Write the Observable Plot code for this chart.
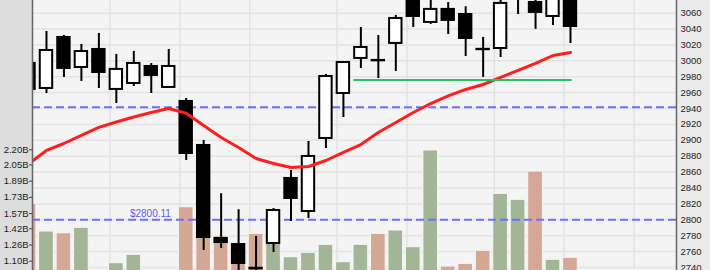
<!DOCTYPE html>
<html><head><meta charset="utf-8">
<script src="https://cdn.jsdelivr.net/npm/d3@7"></script>
<script src="https://cdn.jsdelivr.net/npm/@observablehq/plot@0.6"></script>
<style>
html,body{margin:0;padding:0;background:#fff;}
#chart svg{display:block;}
</style></head><body><div id="chart"></div>
<script>
// ---- data ----
const dayIndex = d3.range(32);
const openPrice  = [2996.7,2965.2,3029.4,2991.6,3014.3,2964.0,2971.5,2992.9,2966.5,2948.9,2893.5,2776.5,2768.9,2739.0,2770.2,2852.0,2810.4,2902.3,2958.9,3003.0,3000.5,3021.9,3080.0,3048.3,3064.7,3058.3,3014.5,3015.5,3082.0,3073.4,3055.8,3082.0];
const highPrice  = [3002.0,3036.9,3031.9,3020.6,3034.4,3008.1,3011.8,2996.7,3014.3,2952.6,2899.8,2832.8,2812.7,2779.0,2814.2,2862.0,2898.5,2982.8,2999.2,3042.0,3031.9,3057.1,3085.0,3080.0,3073.4,3068.0,3029.4,3078.0,3100.0,3085.0,3086.0,3090.0];
const lowPrice   = [2958.0,2958.9,2979.1,2974.1,2965.2,2946.3,2967.7,2958.9,2966.5,2874.6,2761.4,2763.9,2728.0,2725.0,2758.9,2797.9,2801.6,2889.7,2928.7,2990.4,2977.8,2986.6,3041.9,3045.8,3033.2,3005.5,2979.1,3004.2,3058.3,3039.5,3044.5,3021.8];
const closePrice = [2964.0,3013.0,2990.4,3011.7,2985.3,2989.2,2996.7,2981.6,2992.9,2883.4,2777.7,2771.4,2745.0,2738.2,2811.7,2826.8,2879.7,2980.3,2997.9,3016.8,3000.0,3053.3,3055.8,3064.7,3050.8,3028.1,3014.0,3072.2,3095.0,3060.9,3080.0,3043.2];
const volumeB    = [1.667,1.393,1.376,1.430,0.98,1.080,1.163,0.95,0.97,1.633,1.60,1.344,1.272,1.370,1.324,1.139,1.183,1.262,1.090,1.262,1.370,1.403,1.238,2.193,1.048,1.074,1.203,1.765,1.706,1.985,1.114,1.134];
const movingAvg  = [2870.8,2887.2,2896.0,2906.1,2916.2,2923.1,2929.4,2935.0,2940.0,2934.1,2918.7,2903.6,2891.0,2877.1,2870.8,2865.8,2867.1,2874.6,2884.7,2894.7,2909.8,2922.4,2935.0,2946.3,2955.8,2964.0,2970.2,2979.1,2987.9,2996.7,3006.7,3010.5];

const priceTicks = [2740,2760,2780,2800,2820,2840,2860,2880,2900,2920,2940,2960,2980,3000,3020,3040,3060];
const volumeTicks = [1.10,1.26,1.42,1.57,1.73,1.89,2.05,2.20];
const volumeTickLabels = ["1.10B","1.26B","1.42B","1.57B","1.73B","1.89B","2.05B","2.20B"];
const weekStarts = [5,9,13,18,22,27,31,35];
const refPrices = [2941.5, 2800.11];
const refLabels = ["", "$2800.11"];
const refLabelDay = [0, 6.95];
const supportPrice = 2975.9, supportFrom = 18.6, supportTo = 31.1;

// ---- scales / helpers ----
const xDomain = [0.2, 37.07];
const yDomain = [2736.2, 3075.9];
// secondary (volume) axis mapped onto price units
const volToPrice = v => 2747.9 + (v - 1.10) * 127.47;

const candles = dayIndex.map(i => ({
  i, open: openPrice[i], high: highPrice[i], low: lowPrice[i], close: closePrice[i],
  vol: volumeB[i], ma: movingAvg[i],
  up: i > 0 && closePrice[i] >= closePrice[i - 1]
}));
const refs = refPrices.map((p, k) => ({price: p, label: refLabels[k], at: refLabelDay[k]}));

const FONT = "Liberation Sans, Arial, sans-serif";

const chart = Plot.plot({
  width: 710, height: 270,
  marginLeft: 32, marginRight: 34, marginTop: 0, marginBottom: 0,
  style: {
    fontFamily: FONT, fontSize: "9.5px", color: "#222",
    background: "linear-gradient(to right, #dddddd 0 32px, #f4f4f4 32px 676px, #ebebeb 676px)"
  },
  x: {domain: xDomain, axis: null},
  y: {domain: yDomain, axis: null},
  marks: [
    Plot.frame({fill: "#f4f4f4"}),
    Plot.ruleY(priceTicks, {stroke: "#e3e3e3", strokeWidth: 1.5}),
    Plot.ruleX(weekStarts, {x: d => d - 0.36, stroke: "#e3e3e3", strokeWidth: 1.5}),
    // volume bars
    Plot.rect(candles, {
      x1: d => d.i - 0.42, x2: d => d.i + 0.42,
      y1: () => volToPrice(0), y2: d => volToPrice(d.vol),
      fill: d => d.up ? "#a3b597" : "#d4a894",
      stroke: "#f7f7f7", strokeWidth: 1, clip: true
    }),
    // reference dashed lines
    Plot.ruleY(refs, {y: "price", stroke: "#6f6fff", strokeWidth: 2, strokeDasharray: "8,4"}),
    Plot.text(refs.filter(d => d.label), {x: "at", y: "price", text: "label", dy: -6,
      fill: "#5a5af0", fontSize: 10, textAnchor: "middle"}),
    // wicks
    Plot.ruleX(candles, {x: "i", y1: "low", y2: "high", stroke: "black", strokeWidth: 2, clip: true}),
    // bodies
    Plot.rect(candles, {
      x1: d => d.i - 0.355, x2: d => d.i + 0.355,
      y1: "open", y2: "close",
      fill: d => d.close < d.open ? "black" : "white",
      stroke: "black", strokeWidth: 2, clip: true
    }),
    // moving average
    Plot.line(candles, {x: "i", y: "ma", stroke: "#ff1e1e", strokeWidth: 3, clip: true}),
    // support line
    Plot.ruleY([supportPrice], {x1: supportFrom, x2: supportTo, stroke: "#27c267", strokeWidth: 2}),
    // axis lines
    Plot.ruleX(xDomain, {stroke: "#666", strokeWidth: 1.5}),
    // right price axis
    Plot.axisY(priceTicks, {anchor: "right", tickSize: 0, tickPadding: 4, fill: "#222", fontSize: 9.5,
      tickFormat: d => String(d)}),
    // left volume axis
    Plot.axisY(volumeTicks.map(volToPrice), {anchor: "left", tickSize: 3, tickPadding: 1, stroke: "#444",
      tickFormat: (d, k) => volumeTickLabels[k], fill: "#222", fontSize: 9.5})
  ]
});
document.getElementById("chart").appendChild(chart);
</script></body></html>
